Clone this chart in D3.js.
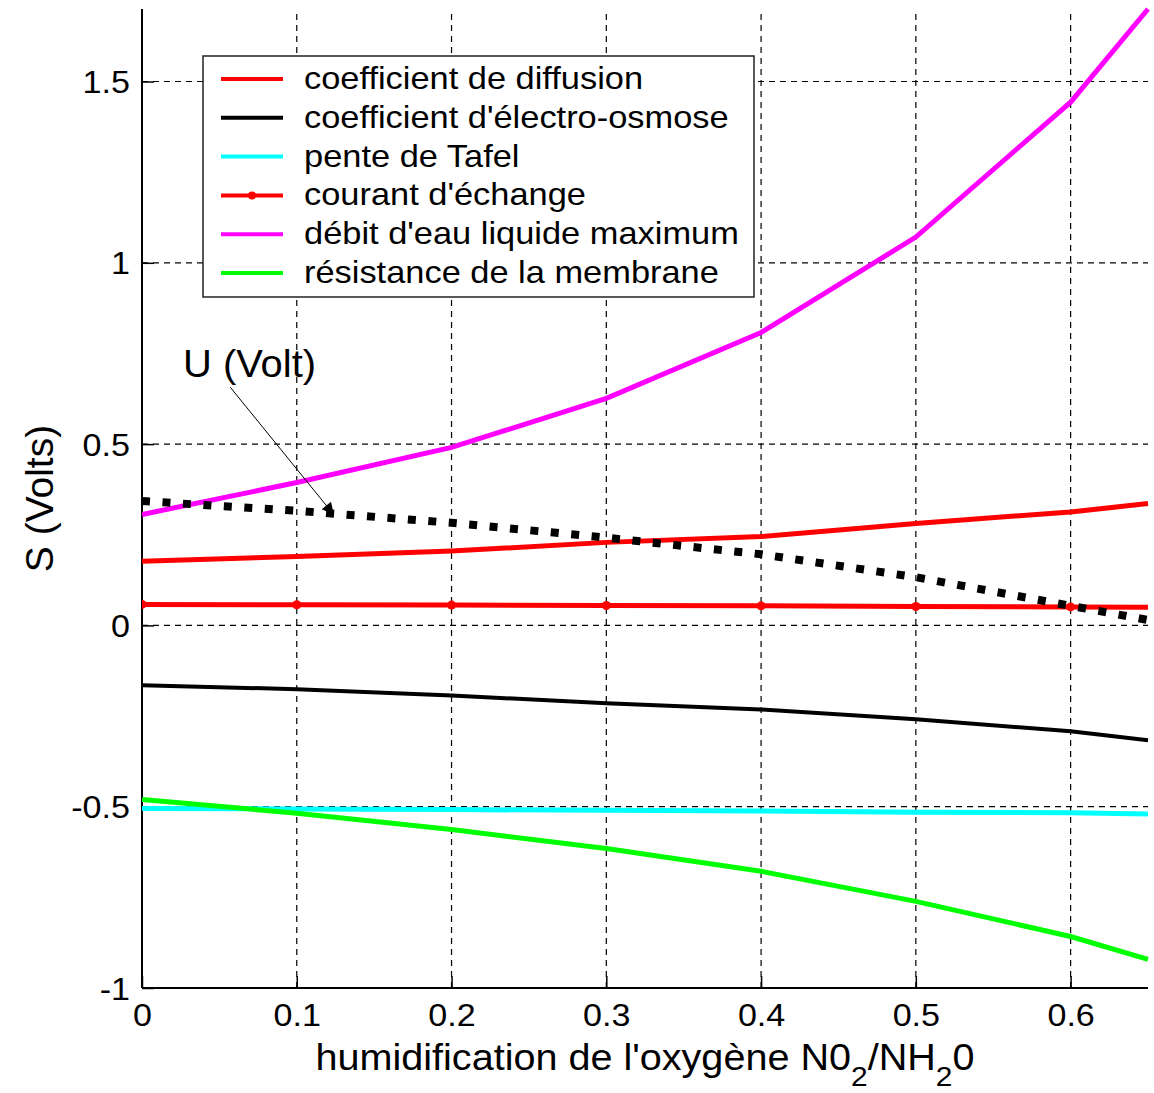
<!DOCTYPE html>
<html>
<head>
<meta charset="utf-8">
<script src="https://cdn.jsdelivr.net/npm/d3@7"></script>
<style>
  body { margin: 0; background: #fff; }
  text { font-family: "Liberation Sans", Arial, sans-serif; fill: #000; }
</style>
</head>
<body>
<svg id="chart"></svg>
<script>
// x values (humidification N02/NH20)
let xs = [0, 0.1, 0.2, 0.3, 0.4, 0.5, 0.6, 0.65]

// series
let diffusion = [0.177, 0.19, 0.205, 0.229, 0.245, 0.281, 0.313, 0.336]
let electroOsmose = [-0.165, -0.176, -0.193, -0.215, -0.232, -0.259, -0.292, -0.317]
let tafel = [-0.505, -0.506, -0.508, -0.510, -0.512, -0.515, -0.517, -0.520]
let courant = [0.058, 0.057, 0.056, 0.055, 0.054, 0.052, 0.051, 0.050]
let debitEau = [0.306, 0.394, 0.491, 0.626, 0.808, 1.071, 1.443, 1.70]
let resistance = [-0.48, -0.518, -0.563, -0.615, -0.678, -0.761, -0.858, -0.921]
let tension = [0.343, 0.316, 0.283, 0.242, 0.196, 0.133, 0.054, 0.015]

let xTicks = [0, 0.1, 0.2, 0.3, 0.4, 0.5, 0.6]
let yTicks = [-1, -0.5, 0, 0.5, 1, 1.5]

let legendNames = ["coefficient de diffusion", "coefficient d'électro-osmose", "pente de Tafel",
    "courant d'échange", "débit d'eau liquide maximum", "résistance de la membrane"]

let series = [
    {name: legendNames[0], values: diffusion, color: "#ff0000", width: 5},
    {name: legendNames[1], values: electroOsmose, color: "#000000", width: 4},
    {name: legendNames[2], values: tafel, color: "#00ffff", width: 5},
    {name: legendNames[3], values: courant, color: "#ff0000", width: 5, marker: true},
    {name: legendNames[4], values: debitEau, color: "#ff00ff", width: 5},
    {name: legendNames[5], values: resistance, color: "#00ff00", width: 5}
]

let svg = d3.select('#chart')
    .attr('width', 1154)
    .attr('height', 1093)

let x = d3.scaleLinear().domain([0, 0.65]).range([142, 1148])
let y = d3.scaleLinear().domain([-1, 1.7]).range([988, 9])

let sx = 1.1  // text in the picture is a bit wide

// grid
svg.append('g').selectAll('line')
    .data(xTicks.filter(d => d > 0))
    .enter().append('line')
    .attr('x1', d => x(d)).attr('x2', d => x(d))
    .attr('y1', y(-1)).attr('y2', y(1.7))
    .attr('stroke', '#000').attr('stroke-width', 1.2)
    .attr('stroke-dasharray', '6,5')

svg.append('g').selectAll('line')
    .data(yTicks.filter(d => d > -1))
    .enter().append('line')
    .attr('x1', x(0)).attr('x2', x(0.65))
    .attr('y1', d => y(d)).attr('y2', d => y(d))
    .attr('stroke', '#000').attr('stroke-width', 1.2)
    .attr('stroke-dasharray', '6,5')

// axes
let xAxis = d3.axisBottom(x).tickValues(xTicks).tickSize(-12).tickPadding(16)
    .tickFormat(d => d === 0 ? "0" : d3.format(".1f")(d))
let yAxis = d3.axisLeft(y).tickValues(yTicks).tickSize(-12)
    .tickFormat(d => d === 0 ? "0" : String(d))

let gx = svg.append('g').attr('transform', 'translate(0,' + y(-1) + ')').call(xAxis)
let gy = svg.append('g').attr('transform', 'translate(' + x(0) + ',0)').call(yAxis)

gx.select('.domain').attr('stroke', '#000').attr('stroke-width', 2).attr('d', 'M' + x(0) + ',0H' + x(0.65))
gy.select('.domain').attr('stroke', '#000').attr('stroke-width', 2).attr('d', 'M0,' + y(-1) + 'V' + y(1.7))
gx.selectAll('.tick line').attr('stroke', '#000').attr('stroke-width', 1.5)
gy.selectAll('.tick line').attr('stroke', '#000').attr('stroke-width', 1.5)

gx.selectAll('.tick text')
    .attr('font-size', 31).attr('font-family', '"Liberation Sans", Arial, sans-serif')
    .attr('fill', '#000').attr('dy', '0.71em')
    .attr('transform', 'scale(' + sx + ',1)')
gy.selectAll('.tick text')
    .attr('font-size', 31).attr('font-family', '"Liberation Sans", Arial, sans-serif')
    .attr('fill', '#000')
    .attr('transform', 'translate(-12,0) scale(' + sx + ',1)').attr('x', 0).attr('dy', '0.36em')

// series lines
let line = d3.line()
    .x((d, i) => x(xs[i]))
    .y(d => y(d))

svg.append('defs').append('clipPath').attr('id', 'plotclip')
    .append('rect').attr('x', x(0)).attr('y', 0).attr('width', x(0.65) - x(0) + 6).attr('height', y(-1))

let plot = svg.append('g').attr('clip-path', 'url(#plotclip)')

series.forEach(function(s) {
    plot.append('path')
        .datum(s.values)
        .attr('d', line)
        .attr('fill', 'none')
        .attr('stroke', s.color)
        .attr('stroke-width', s.width)
    if (s.marker) {
        plot.selectAll('circle.m')
            .data(s.values.slice(0, 7))
            .enter().append('circle')
            .attr('cx', (d, i) => x(xs[i]))
            .attr('cy', d => y(d))
            .attr('r', 4.5)
            .attr('fill', s.color)
    }
})

// U (Volt) dotted line
plot.append('path')
    .datum(tension)
    .attr('d', line)
    .attr('fill', 'none')
    .attr('stroke', '#000')
    .attr('stroke-width', 8)
    .attr('stroke-dasharray', '8,12.5')

// annotation
let ann = svg.append('g')
ann.append('text')
    .attr('transform', 'translate(' + x(0.0265) + ',' + y(0.684) + ') scale(1.05,1)')
    .attr('font-size', 38)
    .text('U (Volt)')

svg.append('defs').append('marker')
    .attr('id', 'arrow')
    .attr('viewBox', '0 0 10 10')
    .attr('refX', 10).attr('refY', 5)
    .attr('markerWidth', 16).attr('markerHeight', 12)
    .attr('markerUnits', 'userSpaceOnUse')
    .attr('orient', 'auto')
    .append('path').attr('d', 'M0,0L10,5L0,10z').attr('fill', '#000')

ann.append('line')
    .attr('x1', x(0.057)).attr('y1', y(0.657))
    .attr('x2', x(0.124)).attr('y2', y(0.305))
    .attr('stroke', '#000').attr('stroke-width', 1)
    .attr('marker-end', 'url(#arrow)')

// legend
let lg = svg.append('g')
lg.append('rect')
    .attr('x', 203).attr('y', 56).attr('width', 551).attr('height', 241)
    .attr('fill', '#fff').attr('stroke', '#222').attr('stroke-width', 1.5)

let rows = lg.selectAll('g.row')
    .data(series)
    .enter().append('g')
    .attr('transform', (d, i) => 'translate(0,' + (79 + i * 38.8) + ')')

rows.append('line')
    .attr('x1', 221).attr('x2', 283).attr('y1', 0).attr('y2', 0)
    .attr('stroke', d => d.color).attr('stroke-width', 4)
rows.filter(d => d.marker).append('circle')
    .attr('cx', 252).attr('cy', 0).attr('r', 4).attr('fill', d => d.color)
rows.append('text')
    .attr('transform', 'translate(304,10) scale(1.11,1)')
    .attr('font-size', 31)
    .text(d => d.name)

// axis labels
let xl = svg.append('text')
    .attr('text-anchor', 'middle')
    .attr('transform', 'translate(' + ((x(0) + x(0.65)) / 2) + ',1070) scale(1.07,1)')
    .attr('font-size', 37)
xl.append('tspan').text("humidification de l'oxygène N0")
xl.append('tspan').attr('font-size', 28).attr('dy', 16).text('2')
xl.append('tspan').attr('dy', -16).text('/NH')
xl.append('tspan').attr('font-size', 28).attr('dy', 16).text('2')
xl.append('tspan').attr('dy', -16).text('0')

svg.append('text')
    .attr('text-anchor', 'middle')
    .attr('transform', 'translate(53,' + ((y(-1) + y(1.7)) / 2) + ') rotate(-90)')
    .attr('font-size', 39)
    .text('S (Volts)')
</script>
</body>
</html>
